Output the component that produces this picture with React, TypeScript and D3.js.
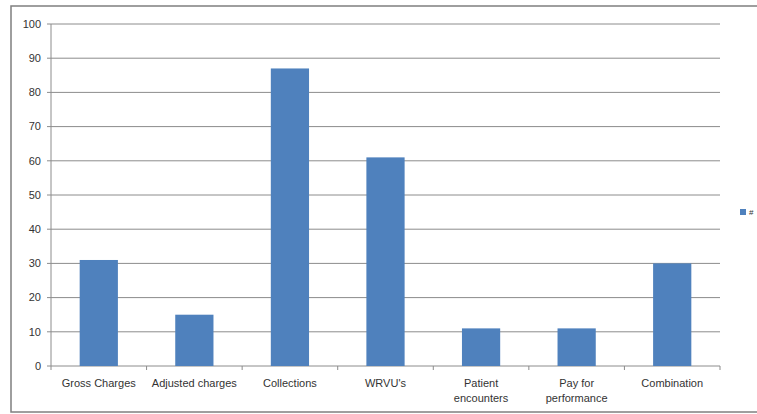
import React, { useEffect, useRef } from 'react';
import * as d3 from 'd3';

// chart data
const categories = ['Gross Charges', 'Adjusted charges', 'Collections', "WRVU's", 'Patient encounters', 'Pay for performance', 'Combination'];
const labelLines = [['Gross Charges'], ['Adjusted charges'], ['Collections'], ["WRVU's"], ['Patient', 'encounters'], ['Pay for', 'performance'], ['Combination']];
const counts = [31, 15, 87, 61, 11, 11, 30];
const yTicks = [0, 10, 20, 30, 40, 50, 60, 70, 80, 90, 100];
const seriesName = '#';

const App = () => {
  const svgRef = useRef<SVGSVGElement>(null);

  useEffect(() => {
    if (!svgRef.current) return;
    const svg = d3.select(svgRef.current);
    svg.selectAll('*').remove();

    const width = 757;
    const height = 414;
    const margin = { top: 24, right: 37, bottom: 48, left: 51 };
    const font = '"Liberation Sans", Arial, sans-serif';

    // outer frame
    svg.append('rect')
      .attr('x', 11).attr('y', 6)
      .attr('width', 760).attr('height', 406)
      .attr('fill', '#fff')
      .attr('stroke', '#7f7f7f')
      .attr('stroke-width', 1.5);

    const x = d3.scaleBand()
      .domain(categories)
      .range([margin.left, width - margin.right])
      .padding(0);

    const y = d3.scaleLinear()
      .domain([0, 100])
      .range([height - margin.bottom, margin.top]);

    // gridlines + y ticks
    const g = svg.append('g');
    g.selectAll('.grid')
      .data(yTicks)
      .join('line')
      .attr('x1', margin.left - 4)
      .attr('x2', width - margin.right)
      .attr('y1', d => y(d))
      .attr('y2', d => y(d))
      .attr('stroke', '#8c8c8c')
      .attr('stroke-width', 1);

    g.selectAll('.ylab')
      .data(yTicks)
      .join('text')
      .attr('x', margin.left - 10)
      .attr('y', d => y(d))
      .attr('dy', '0.35em')
      .attr('text-anchor', 'end')
      .style('font-family', font)
      .style('font-size', '11px')
      .style('fill', '#333')
      .text(d => d);

    // y axis line
    g.append('line')
      .attr('x1', margin.left).attr('x2', margin.left)
      .attr('y1', y(100)).attr('y2', y(0))
      .attr('stroke', '#8c8c8c');

    // category ticks
    const edges = categories.map(c => x(c)!).concat([width - margin.right]);
    g.selectAll('.xtick')
      .data(edges)
      .join('line')
      .attr('x1', d => d).attr('x2', d => d)
      .attr('y1', y(0)).attr('y2', y(0) + 4)
      .attr('stroke', '#8c8c8c');

    // bars
    const bw = x.bandwidth() * 0.4;
    g.selectAll('.bar')
      .data(counts)
      .join('rect')
      .attr('x', (d, i) => x(categories[i])! + (x.bandwidth() - bw) / 2)
      .attr('y', d => y(d))
      .attr('width', bw)
      .attr('height', d => y(0) - y(d))
      .attr('fill', '#4f81bd');

    // x labels
    labelLines.forEach((lines, i) => {
      const cx = x(categories[i])! + x.bandwidth() / 2;
      lines.forEach((t, j) => {
        g.append('text')
          .attr('x', cx)
          .attr('y', y(0) + 21 + j * 15)
          .attr('text-anchor', 'middle')
          .style('font-family', font)
          .style('font-size', '11px')
          .style('fill', '#333')
          .text(t);
      });
    });

    // legend
    svg.append('rect')
      .attr('x', 740).attr('y', 209)
      .attr('width', 6).attr('height', 6)
      .attr('fill', '#4f81bd');
    svg.append('text')
      .attr('x', 749).attr('y', 212)
      .attr('dy', '0.35em')
      .style('font-family', font)
      .style('font-size', '8px')
      .style('fill', '#333')
      .text(seriesName);
  }, []);

  return (
    <svg
      ref={svgRef}
      width={757}
      height={414}
      style={{ position: 'absolute', left: 0, top: 0, display: 'block', background: '#fff' }}
    />
  );
};

export default App;
